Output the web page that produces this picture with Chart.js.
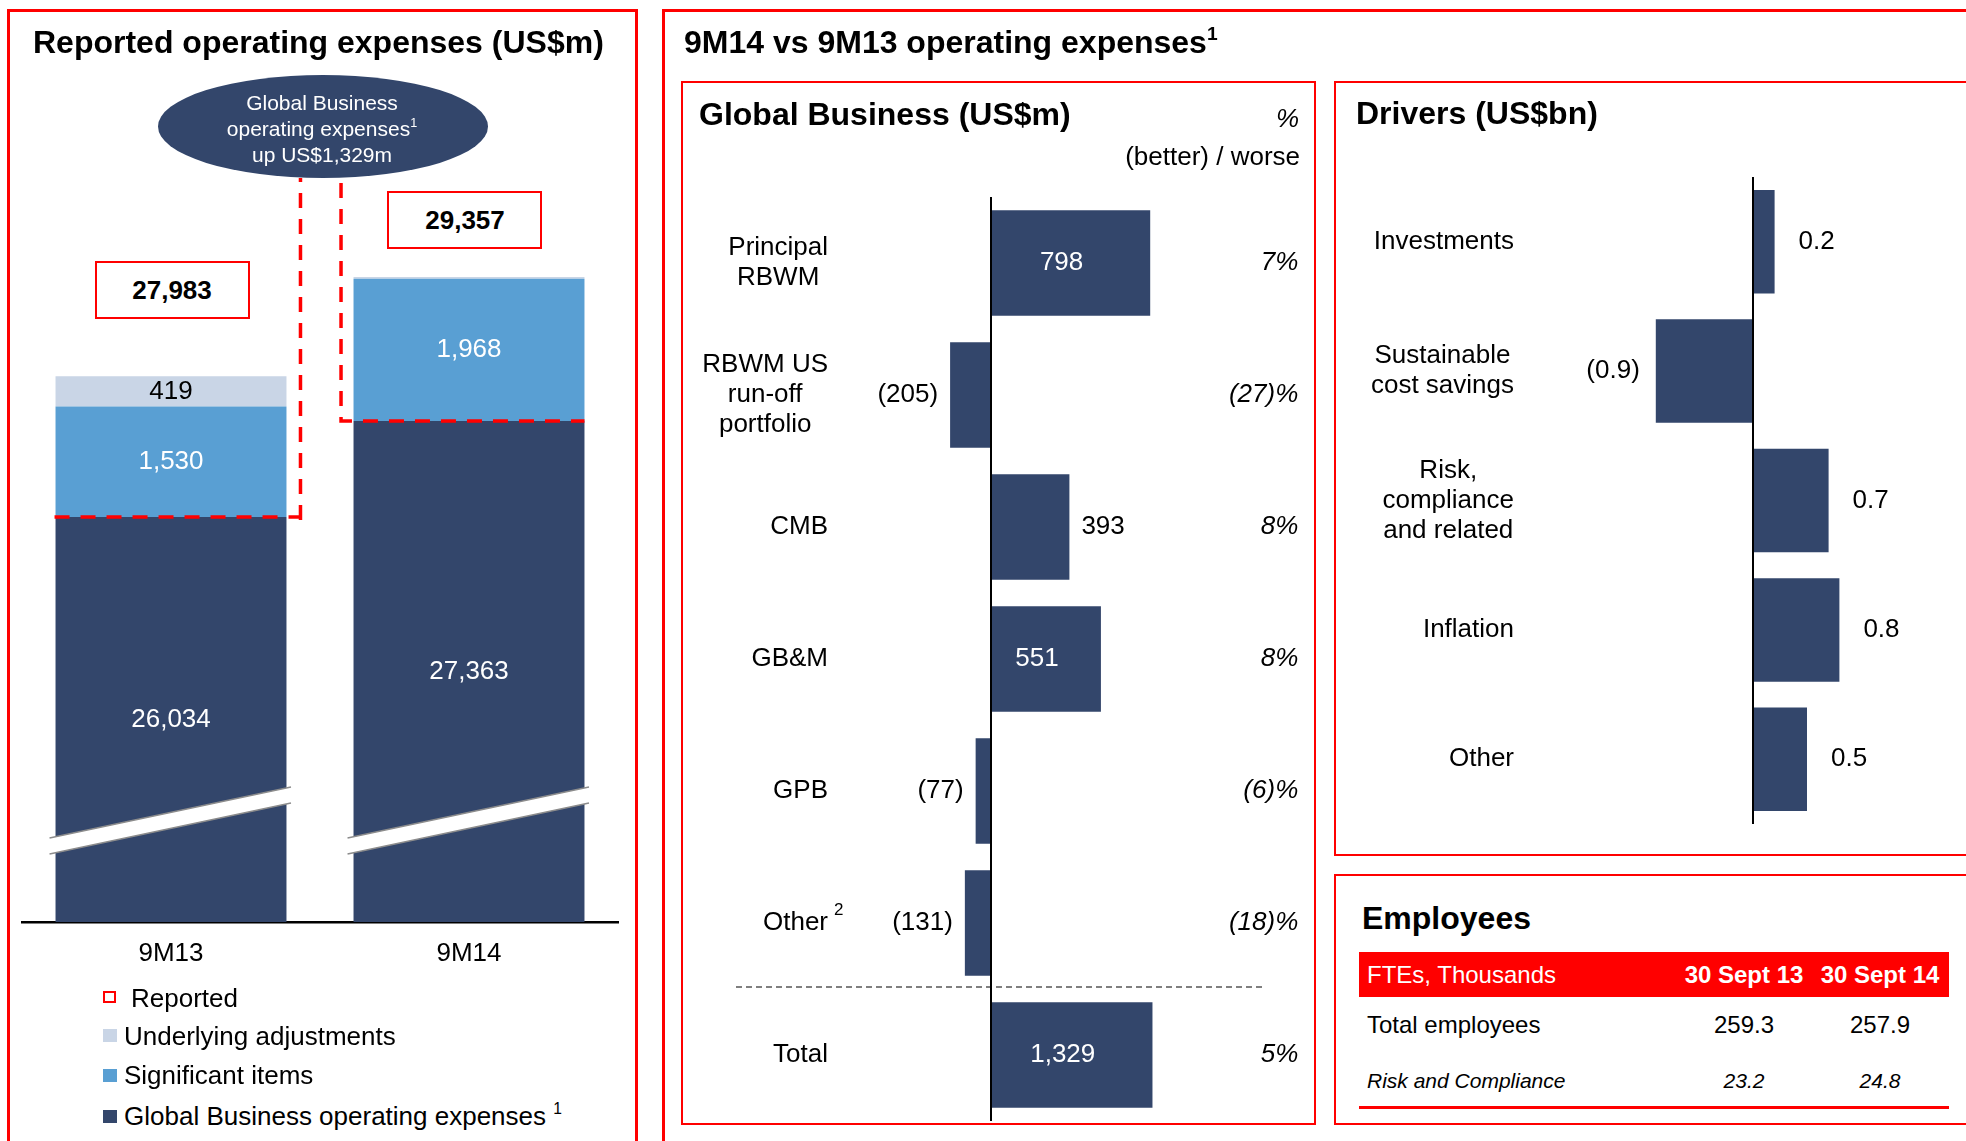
<!DOCTYPE html>
<html>
<head>
<meta charset="utf-8">
<script src="https://cdn.jsdelivr.net/npm/chart.js@4.4.1/dist/chart.umd.min.js"></script>
<style>
html, body { margin: 0; padding: 0; background: #fff; }
#page { position: relative; width: 1966px; height: 1141px; overflow: hidden; color: #000;
        font-family: "Liberation Sans", Arial, sans-serif; }
.t { position: absolute; line-height: 1; white-space: nowrap; transform: translateY(-50%); }
.t.r { transform: translate(-100%, -50%); }
.t.c { transform: translate(-50%, -50%); }
.box { position: absolute; box-sizing: border-box; }
canvas { position: absolute; }
sup { font-size: 0.6em; vertical-align: 0.7em; line-height: 0; }
</style>
</head>
<body>
<div id="page">
  <!-- panel frames -->
  <div class="box" style="left:7px;top:9px;width:631px;height:1200px;border:3px solid #ff0000;"></div>
  <div class="box" style="left:662px;top:9px;width:1400px;height:1200px;border:3px solid #ff0000;"></div>
  <div class="box" style="left:681px;top:81px;width:635px;height:1044px;border:2px solid #ff0000;"></div>
  <div class="box" style="left:1334px;top:81px;width:700px;height:775px;border:2px solid #ff0000;"></div>
  <div class="box" style="left:1334px;top:874px;width:700px;height:251px;border:2px solid #ff0000;"></div>

  <canvas id="opexChart" width="640" height="990" style="left:0;top:0;width:640px;height:990px;"></canvas>
  <canvas id="gbChart" width="632" height="1042" style="left:682px;top:82px;width:632px;height:1042px;"></canvas>
  <canvas id="drvChart" width="630" height="773" style="left:1336px;top:82px;width:630px;height:773px;"></canvas>

  <!-- annotations left panel -->
  <div class="box" style="left:158px;top:75px;width:330px;height:103px;border-radius:50%;background:#33466b;"></div>
  <div class="box" style="left:95px;top:261px;width:155px;height:58px;border:2px solid #ff0000;background:#fff;"></div>
  <div class="box" style="left:387px;top:191px;width:155px;height:58px;border:2px solid #ff0000;background:#fff;"></div>

  <!-- legend swatches -->
  <div class="box" style="left:103px;top:991px;width:13px;height:12px;border:2px solid #ff0000;"></div>
  <div class="box" style="left:103px;top:1029px;width:14px;height:13px;background:#c9d5e6;"></div>
  <div class="box" style="left:103px;top:1069px;width:14px;height:13px;background:#599fd3;"></div>
  <div class="box" style="left:103px;top:1110px;width:14px;height:13px;background:#33466b;"></div>

  <!-- employees table rules -->
  <div class="box" style="left:1359px;top:952px;width:590px;height:45px;background:#ff0000;"></div>
  <div class="box" style="left:1359px;top:1106px;width:590px;height:3px;background:#ff0000;"></div>
</div>

<script>
// ── Data ─────────────────────────────────────────
var periods        = ['9M13', '9M14'];
var gbExpenses     = [26034, 27363];
var sigItems       = [1530, 1968];
var underlyingAdj  = [419, 26];
var reportedTotals = [27983, 29357];

var gbLabels   = [['Principal', 'RBWM'], ['RBWM US', 'run-off', 'portfolio'], 'CMB', 'GB&M', 'GPB', 'Other', 'Total'];
var gbNotes    = ['', '', '', '', '', '2', ''];
var gbValues   = [798, -205, 393, 551, -77, -131, 1329];
var gbPct      = ['7%', '(27)%', '8%', '8%', '(6)%', '(18)%', '5%'];
var gbTotalIdx = 6;

var drvLabels = ['Investments', ['Sustainable', 'cost savings'], ['Risk,', 'compliance', 'and related'], 'Inflation', 'Other'];
var drvValues = [0.2, -0.9, 0.7, 0.8, 0.5];

var empHeader    = 'FTEs, Thousands';
var empDates     = ['30 Sept 13', '30 Sept 14'];
var empRowLabels = ['Total employees', 'Risk and Compliance'];
var empTotal     = [259.3, 257.9];
var empRisk      = [23.2, 24.8];

var RED = '#ff0000', NAVY = '#33466b', BLUE = '#599fd3', PALE = '#c9d5e6';
var FAMILY = '"Liberation Sans", Arial, sans-serif';

Chart.defaults.font.family = FAMILY;
var page = document.getElementById('page');

function font(size, style) { return (style ? style + ' ' : '') + size + 'px ' + FAMILY; }

function txt(x, y, html, size, opts) {
  opts = opts || {};
  var d = document.createElement('div');
  d.className = 't' + (opts.align === 'right' ? ' r' : opts.align === 'center' ? ' c' : '');
  d.style.left = x + 'px';
  d.style.top = y + 'px';
  d.style.fontSize = size + 'px';
  if (opts.bold) d.style.fontWeight = 'bold';
  if (opts.italic) d.style.fontStyle = 'italic';
  if (opts.color) d.style.color = opts.color;
  d.innerHTML = html;
  page.appendChild(d);
  return d;
}

function fmtM(v) {
  var s = Math.abs(v).toLocaleString('en-US');
  return v < 0 ? '(' + s + ')' : s;
}
function fmtBn(v) {
  var s = Math.abs(v).toFixed(1);
  return v < 0 ? '(' + s + ')' : s;
}

// category label block: lines centred, block right-aligned
function drawLabelBlock(ctx, lab, right, yc, note) {
  var lines = [].concat(lab);
  ctx.font = font(26);
  var w = Math.max.apply(null, lines.map(function(s){ return ctx.measureText(s).width; }));
  ctx.textAlign = 'center';
  ctx.textBaseline = 'middle';
  ctx.fillStyle = '#000';
  lines.forEach(function(s, j){
    ctx.fillText(s, right - w / 2, yc + (j - (lines.length - 1) / 2) * 30);
  });
  if (note) {
    ctx.font = font(17);
    ctx.textAlign = 'left';
    ctx.fillText(note, right + 6, yc - 13);
  }
}

// ── Reported operating expenses (stacked, broken axis) ──
var ELLIPSE_BOTTOM = 178;
var opexDecor = {
  id: 'opexDecor',
  afterDatasetsDraw: function(chart) {
    var ctx = chart.ctx, area = chart.chartArea, ys = chart.scales.y;
    var dark = chart.getDatasetMeta(0).data;

    // axis break bands
    dark.forEach(function(bar){
      var l = bar.x - bar.width / 2 - 6, r = bar.x + bar.width / 2 + 4.5;
      var yl = area.bottom - 84, yr = area.bottom - 135, th = 16;
      ctx.save();
      ctx.beginPath();
      ctx.moveTo(l, yl); ctx.lineTo(r, yr); ctx.lineTo(r, yr + th); ctx.lineTo(l, yl + th);
      ctx.closePath();
      ctx.fillStyle = '#fff';
      ctx.fill();
      ctx.strokeStyle = '#8c8c8c';
      ctx.lineWidth = 1.5;
      ctx.beginPath();
      ctx.moveTo(l, yl); ctx.lineTo(r, yr);
      ctx.moveTo(l, yl + th); ctx.lineTo(r, yr + th);
      ctx.stroke();
      ctx.restore();
    });

    // segment values
    chart.data.datasets.forEach(function(ds, di){
      chart.getDatasetMeta(di).data.forEach(function(bar, i){
        var bottom = Math.min(bar.base, area.bottom);
        if (bottom - bar.y < 20) return;
        ctx.save();
        ctx.font = font(26);
        ctx.fillStyle = ds.labelColor;
        ctx.textAlign = 'center';
        ctx.textBaseline = 'middle';
        ctx.fillText(fmtM(ds.data[i]), bar.x, (bar.y + bottom) / 2);
        ctx.restore();
      });
    });

    // dashed lines: Global Business level up to the bubble
    var b0 = dark[0], b1 = dark[1];
    var y0 = ys.getPixelForValue(gbExpenses[0]), y1 = ys.getPixelForValue(gbExpenses[1]);
    var xa = b0.x + b0.width / 2 + 14, xb = b1.x - b1.width / 2 - 12.5;
    ctx.save();
    ctx.strokeStyle = RED;
    ctx.lineWidth = 3.5;
    ctx.setLineDash([15, 11]);
    ctx.beginPath();
    ctx.moveTo(b0.x - b0.width / 2 - 1, y0);
    ctx.lineTo(xa, y0);
    ctx.moveTo(xa, y0 + 3);
    ctx.lineTo(xa, ELLIPSE_BOTTOM);
    ctx.stroke();
    ctx.beginPath();
    ctx.moveTo(xb, ELLIPSE_BOTTOM + 5);
    ctx.lineTo(xb, y1);
    ctx.lineTo(b1.x + b1.width / 2, y1);
    ctx.stroke();
    ctx.restore();
  }
};

new Chart(document.getElementById('opexChart'), {
  type: 'bar',
  data: {
    labels: periods,
    datasets: [
      { label: 'Global Business operating expenses', data: gbExpenses, backgroundColor: NAVY, labelColor: '#fff' },
      { label: 'Significant items', data: sigItems, backgroundColor: BLUE, labelColor: '#fff' },
      { label: 'Underlying adjustments', data: underlyingAdj, backgroundColor: PALE, labelColor: '#000' }
    ]
  },
  options: {
    responsive: false,
    animation: false,
    layout: { padding: { left: 22, right: 22, top: 60, bottom: 18 } },
    plugins: { legend: { display: false }, tooltip: { enabled: false } },
    datasets: { bar: { categoryPercentage: 1, barPercentage: 0.775, borderWidth: 0 } },
    scales: {
      x: {
        stacked: true,
        grid: { display: false, drawTicks: false },
        border: { display: true, color: '#000', width: 2.5 },
        ticks: { color: '#000', padding: 16, font: { size: 26 } },
        afterFit: function(s){ s.height = 50; }
      },
      y: { stacked: true, display: false, min: 20430, max: 32360 }
    }
  },
  plugins: [opexDecor]
});

// ── Global Business (US$m) ───────────────────────
var gbDecor = {
  id: 'gbDecor',
  afterDatasetsDraw: function(chart) {
    var ctx = chart.ctx, a = chart.chartArea, ys = chart.scales.y, xs = chart.scales.x;
    var x0 = xs.getPixelForValue(0);
    ctx.save();

    ctx.strokeStyle = '#000';
    ctx.lineWidth = 2;
    ctx.beginPath(); ctx.moveTo(x0, a.top); ctx.lineTo(x0, a.bottom); ctx.stroke();

    var ySep = (ys.getPixelForValue(gbTotalIdx - 1) + ys.getPixelForValue(gbTotalIdx)) / 2 - 2;
    ctx.lineWidth = 1.2;
    ctx.setLineDash([6, 4]);
    ctx.beginPath(); ctx.moveTo(x0 - 255, ySep); ctx.lineTo(x0 + 274, ySep); ctx.stroke();
    ctx.setLineDash([]);

    gbLabels.forEach(function(lab, i){
      drawLabelBlock(ctx, lab, x0 - 163, ys.getPixelForValue(i), gbNotes[i]);
    });

    chart.data.datasets.forEach(function(ds, di){
      chart.getDatasetMeta(di).data.forEach(function(bar, i){
        var v = ds.data[i];
        if (v === null) return;
        ctx.font = font(26);
        ctx.textBaseline = 'middle';
        if (Math.abs(bar.x - bar.base) > 100) {
          ctx.fillStyle = '#fff'; ctx.textAlign = 'center';
          ctx.fillText(fmtM(v), (bar.x + bar.base) / 2 - 9, bar.y);
        } else if (v >= 0) {
          ctx.fillStyle = '#000'; ctx.textAlign = 'left';
          ctx.fillText(fmtM(v), bar.x + 12, bar.y);
        } else {
          ctx.fillStyle = '#000'; ctx.textAlign = 'right';
          ctx.fillText(fmtM(v), bar.x - 12, bar.y);
        }
      });
    });

    ctx.font = font(26, 'italic');
    ctx.fillStyle = '#000';
    ctx.textAlign = 'right';
    ctx.textBaseline = 'middle';
    gbPct.forEach(function(p, i){ ctx.fillText(p, a.right + 8, ys.getPixelForValue(i)); });
    ctx.restore();
  }
};

new Chart(document.getElementById('gbChart'), {
  type: 'bar',
  data: {
    labels: gbLabels,
    datasets: [
      { data: gbValues.map(function(v, i){ return i === gbTotalIdx ? null : v; }), xAxisID: 'x', backgroundColor: NAVY },
      { data: gbValues.map(function(v, i){ return i === gbTotalIdx ? v : null; }), xAxisID: 'x2', backgroundColor: NAVY }
    ]
  },
  options: {
    indexAxis: 'y',
    responsive: false,
    animation: false,
    layout: { padding: { left: 9.75, right: 23.75, top: 115, bottom: 3 } },
    plugins: { legend: { display: false }, tooltip: { enabled: false } },
    datasets: { bar: { grouped: false, categoryPercentage: 1, barPercentage: 0.8, borderWidth: 0 } },
    scales: {
      y: { display: false },
      x: { type: 'linear', display: false, min: -1500, max: 1500 },
      x2: { type: 'linear', display: false, min: -2463, max: 2463 }
    }
  },
  plugins: [gbDecor]
});

// ── Drivers (US$bn) ──────────────────────────────
var drvDecor = {
  id: 'drvDecor',
  afterDatasetsDraw: function(chart) {
    var ctx = chart.ctx, a = chart.chartArea, ys = chart.scales.y, xs = chart.scales.x;
    var x0 = xs.getPixelForValue(0);
    ctx.save();
    ctx.strokeStyle = '#000';
    ctx.lineWidth = 2;
    ctx.beginPath(); ctx.moveTo(x0, a.top); ctx.lineTo(x0, a.bottom); ctx.stroke();

    drvLabels.forEach(function(lab, i){
      drawLabelBlock(ctx, lab, x0 - 239, ys.getPixelForValue(i), '');
    });

    chart.getDatasetMeta(0).data.forEach(function(bar, i){
      var v = drvValues[i];
      ctx.font = font(26);
      ctx.fillStyle = '#000';
      ctx.textBaseline = 'middle';
      ctx.textAlign = v < 0 ? 'right' : 'left';
      ctx.fillText(fmtBn(v), v < 0 ? bar.x - 16 : bar.x + 24, bar.y);
    });
    ctx.restore();
  }
};

new Chart(document.getElementById('drvChart'), {
  type: 'bar',
  data: {
    labels: drvLabels,
    datasets: [{ data: drvValues, backgroundColor: NAVY }]
  },
  options: {
    indexAxis: 'y',
    responsive: false,
    animation: false,
    layout: { padding: { left: 255, right: 51, top: 95, bottom: 31 } },
    plugins: { legend: { display: false }, tooltip: { enabled: false } },
    datasets: { bar: { categoryPercentage: 1, barPercentage: 0.8, borderWidth: 0 } },
    scales: {
      y: { display: false },
      x: { type: 'linear', display: false, min: -1.5, max: 1.5 }
    }
  },
  plugins: [drvDecor]
});

// ── Text ─────────────────────────────────────────
txt(33, 42, 'Reported operating expenses (US$m)', 32, { bold: true });
txt(684, 42, '9M14 vs 9M13 operating expenses<sup>1</sup>', 32, { bold: true });
txt(699, 114, 'Global Business (US$m)', 32, { bold: true });
txt(1299, 118, '%', 26, { italic: true, align: 'right' });
txt(1300, 156, '(better) / worse', 26, { align: 'right' });
txt(1356, 113, 'Drivers (US$bn)', 32, { bold: true });
txt(1362, 918, 'Employees', 32, { bold: true });

// bubble
txt(322, 102, 'Global Business', 21, { align: 'center', color: '#fff' });
txt(322, 128, 'operating expenses<sup>1</sup>', 21, { align: 'center', color: '#fff' });
txt(322, 154, 'up US$' + (gbExpenses[1] - gbExpenses[0]).toLocaleString('en-US') + 'm', 21, { align: 'center', color: '#fff' });

// reported boxes
txt(172, 290, reportedTotals[0].toLocaleString('en-US'), 26, { bold: true, align: 'center' });
txt(465, 220, reportedTotals[1].toLocaleString('en-US'), 26, { bold: true, align: 'center' });

// legend
txt(131, 998, 'Reported', 26);
txt(124, 1036, 'Underlying adjustments', 26);
txt(124, 1075, 'Significant items', 26);
txt(124, 1116, 'Global Business operating expenses <sup>1</sup>', 26);

// employees table
txt(1367, 975, empHeader, 24, { color: '#fff' });
txt(1744, 975, empDates[0], 24, { bold: true, color: '#fff', align: 'center' });
txt(1880, 975, empDates[1], 24, { bold: true, color: '#fff', align: 'center' });
txt(1367, 1025, empRowLabels[0], 24);
txt(1744, 1025, empTotal[0].toFixed(1), 24, { align: 'center' });
txt(1880, 1025, empTotal[1].toFixed(1), 24, { align: 'center' });
txt(1367, 1080, empRowLabels[1], 21, { italic: true });
txt(1744, 1080, empRisk[0].toFixed(1), 21, { italic: true, align: 'center' });
txt(1880, 1080, empRisk[1].toFixed(1), 21, { italic: true, align: 'center' });
</script>
</body>
</html>
